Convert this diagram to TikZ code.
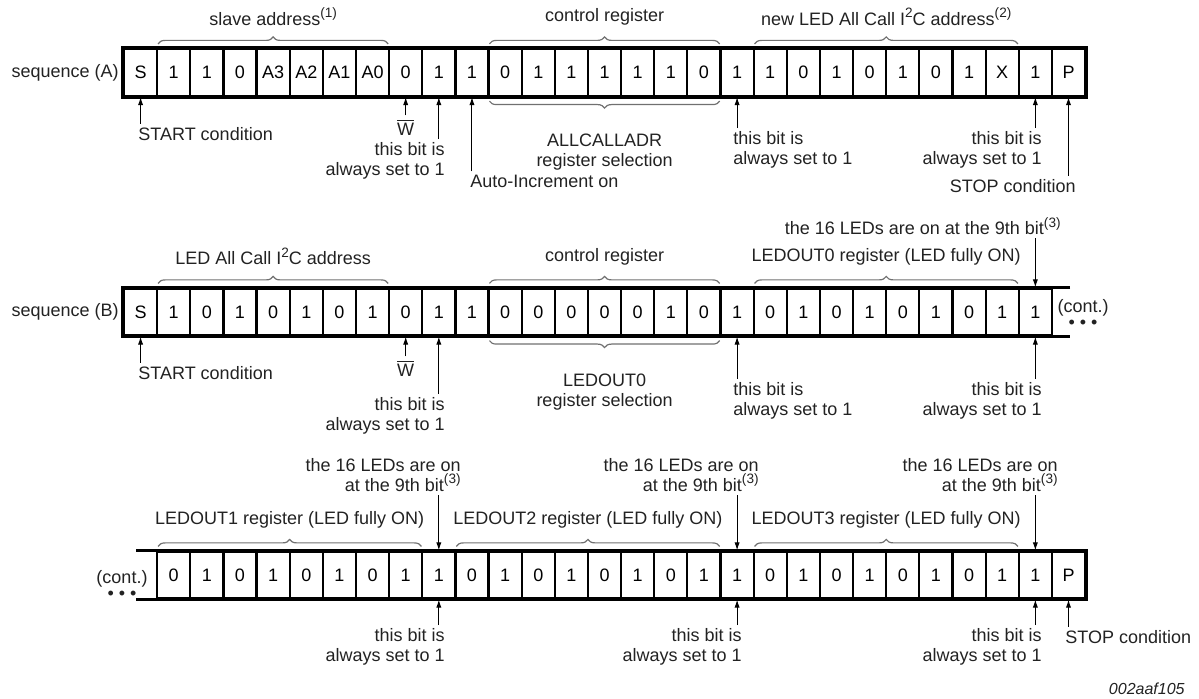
\documentclass[tikz,border=0pt]{standalone}
\usepackage{fontspec}
\setmainfont{Liberation Sans}
\usetikzlibrary{arrows.meta,decorations.pathreplacing}
\definecolor{braceGris}{HTML}{707070}
\definecolor{textoGris}{HTML}{222222}
\newcommand\notemark[1]{\raisebox{0.42em}{\fontsize{6.8pt}{7pt}\selectfont #1}}

\tikzset{
  bitcell/.style={draw,line width=1.1pt,minimum width=16.57pt,minimum height=23.5pt,inner sep=0pt},
  rail/.style={line width=1.8pt},
  lbl/.style={inner sep=1.5pt,text=textoGris},
  ptr/.style={-{Latex[length=4pt,width=2.6pt]},line width=0.5pt},
  grpbrace/.style={decorate,decoration={brace,amplitude=3.5pt},draw=braceGris,line width=0.6pt}
}

\begin{document}
\begin{tikzpicture}[x=0.5pt,y=-0.5pt,font=\fontsize{9pt}{10pt}\selectfont]
    \useasboundingbox (0,0) rectangle (1199,699);

    % sequence (A)
    \foreach \b [count=\i from 0] in {S,1,1,0,A3,A2,A1,A0,0,1,1,0,1,1,1,1,1,0,1,1,0,1,0,1,0,1,X,1,P}
      \node[bitcell] (A\i) at (140.57+33.14*\i,72.5) {\b};
    \draw[rail] (A0.north west) rectangle (A28.south east);
    \node[lbl,anchor=east] (seqA) at (122,72.5) {sequence (A)};

    \draw[grpbrace] ([xshift=1pt,yshift=2pt]A1.north west) -- ([xshift=-1pt,yshift=2pt]A7.north east)
      node[lbl,midway,yshift=13.5pt] (slaveA) {slave address\notemark{(1)}};
    \draw[grpbrace] ([xshift=1pt,yshift=2pt]A11.north west) -- ([xshift=-1pt,yshift=2pt]A17.north east)
      node[lbl,midway,yshift=13.5pt] (ctrlA) {control register};
    \draw[grpbrace] ([xshift=1pt,yshift=2pt]A19.north west) -- ([xshift=-1pt,yshift=2pt]A26.north east)
      node[lbl,midway,yshift=13.5pt] (newA) {new LED All Call I\notemark{2}C address\notemark{(2)}};
    \draw[grpbrace] ([xshift=-1pt,yshift=-2pt]A17.south east) -- ([xshift=1pt,yshift=-2pt]A11.south west)
      node[lbl,midway,yshift=-25.5pt,align=center] (allcallA) {ALLCALLADR\\register selection};

    \node[lbl,anchor=west] (startA) at (135,134) {START condition};
    \node[lbl] (wA) at (405.7,127) {\(\overline{\mbox{W}}\)};
    \node[lbl,anchor=east,align=right] (setA9) at (448,161) {this bit is\\always set to 1};
    \node[lbl,anchor=west] (autoA) at (467,181) {Auto-Increment on};
    \node[lbl,anchor=west,align=left] (setA18) at (730,150) {this bit is\\always set to 1};
    \node[lbl,anchor=east,align=right] (setA27) at (1045,150) {this bit is\\always set to 1};
    \node[lbl,anchor=east] (stopA) at (1079,186) {STOP condition};
    \draw[ptr] (startA.north -| A0.south) -- (A0.south);
    \draw[ptr] (wA.north -| A8.south) -- (A8.south);
    \draw[ptr] (setA9.north -| A9.south) -- (A9.south);
    \draw[ptr] (autoA.north -| A10.south) -- (A10.south);
    \draw[ptr] (setA18.north -| A18.south) -- (A18.south);
    \draw[ptr] (setA27.north -| A27.south) -- (A27.south);
    \draw[ptr] (stopA.north -| A28.south) -- (A28.south);

    % sequence (B)
    \foreach \b [count=\i from 0] in {S,1,0,1,0,1,0,1,0,1,1,0,0,0,0,0,1,0,1,0,1,0,1,0,1,0,1,1}
      \node[bitcell] (B\i) at (140.57+33.14*\i,312) {\b};
    \draw[rail] ([xshift=8.5pt]B27.north east) -- (B0.north west) -- (B0.south west) -- ([xshift=8.5pt]B27.south east);
    \node[lbl,anchor=east] (seqB) at (122,312) {sequence (B)};
    \node[lbl,align=center] (contB) at (1083,314) {(cont.)\\[-2pt]\textbullet\hspace{2.5pt}\textbullet\hspace{2.5pt}\textbullet};

    \draw[grpbrace] ([xshift=1pt,yshift=2pt]B1.north west) -- ([xshift=-1pt,yshift=2pt]B7.north east)
      node[lbl,midway,yshift=13.5pt] (allB) {LED All Call I\notemark{2}C address};
    \draw[grpbrace] ([xshift=1pt,yshift=2pt]B11.north west) -- ([xshift=-1pt,yshift=2pt]B17.north east)
      node[lbl,midway,yshift=13.5pt] (ctrlB) {control register};
    \draw[grpbrace] ([xshift=1pt,yshift=2pt]B19.north west) -- ([xshift=-1pt,yshift=2pt]B26.north east)
      node[lbl,midway,yshift=13.5pt] (out0B) {LEDOUT0 register (LED fully ON)};
    \draw[grpbrace] ([xshift=-1pt,yshift=-2pt]B17.south east) -- ([xshift=1pt,yshift=-2pt]B11.south west)
      node[lbl,midway,yshift=-25.5pt,align=center] (selB) {LEDOUT0\\register selection};

    \node[lbl,anchor=east] (ledsB) at (1064,226) {the 16 LEDs are on at the 9th bit\notemark{(3)}};
    \draw[ptr] (ledsB.south -| B27.north) -- (B27.north);

    \node[lbl,anchor=west] (startB) at (135,373) {START condition};
    \node[lbl] (wB) at (405.7,368) {\(\overline{\mbox{W}}\)};
    \node[lbl,anchor=east,align=right] (setB9) at (448,416) {this bit is\\always set to 1};
    \node[lbl,anchor=west,align=left] (setB18) at (730,401) {this bit is\\always set to 1};
    \node[lbl,anchor=east,align=right] (setB27) at (1045,401) {this bit is\\always set to 1};
    \draw[ptr] (startB.north -| B0.south) -- (B0.south);
    \draw[ptr] (wB.north -| B8.south) -- (B8.south);
    \draw[ptr] (setB9.north -| B9.south) -- (B9.south);
    \draw[ptr] (setB18.north -| B18.south) -- (B18.south);
    \draw[ptr] (setB27.north -| B27.south) -- (B27.south);

    % continuation
    \foreach \b [count=\i from 1] in {0,1,0,1,0,1,0,1,1,0,1,0,1,0,1,0,1,1,0,1,0,1,0,1,0,1,1,P}
      \node[bitcell] (C\i) at (140.57+33.14*\i,575) {\b};
    \draw[rail] ([xshift=-10pt]C1.north west) -- (C28.north east) -- (C28.south east) -- ([xshift=-10pt]C1.south west);
    \node[lbl,align=center] (contC) at (122,585) {(cont.)\\[-2pt]\textbullet\hspace{2.5pt}\textbullet\hspace{2.5pt}\textbullet};

    \draw[grpbrace] ([xshift=1pt,yshift=2pt]C1.north west) -- ([xshift=-1pt,yshift=2pt]C8.north east)
      node[lbl,midway,yshift=13.5pt] (out1C) {LEDOUT1 register (LED fully ON)};
    \draw[grpbrace] ([xshift=1pt,yshift=2pt]C10.north west) -- ([xshift=-1pt,yshift=2pt]C17.north east)
      node[lbl,midway,yshift=13.5pt] (out2C) {LEDOUT2 register (LED fully ON)};
    \draw[grpbrace] ([xshift=1pt,yshift=2pt]C19.north west) -- ([xshift=-1pt,yshift=2pt]C26.north east)
      node[lbl,midway,yshift=13.5pt] (out3C) {LEDOUT3 register (LED fully ON)};

    \node[lbl,anchor=east,align=right] (ledsC9) at (464,475) {the 16 LEDs are on\\at the 9th bit\notemark{(3)}};
    \node[lbl,anchor=east,align=right] (ledsC18) at (762,475) {the 16 LEDs are on\\at the 9th bit\notemark{(3)}};
    \node[lbl,anchor=east,align=right] (ledsC27) at (1061,475) {the 16 LEDs are on\\at the 9th bit\notemark{(3)}};
    \draw[ptr] (ledsC9.south -| C9.north) -- (C9.north);
    \draw[ptr] (ledsC18.south -| C18.north) -- (C18.north);
    \draw[ptr] (ledsC27.south -| C27.north) -- (C27.north);

    \node[lbl,anchor=east,align=right] (setC9) at (448,647) {this bit is\\always set to 1};
    \node[lbl,anchor=east,align=right] (setC18) at (745,647) {this bit is\\always set to 1};
    \node[lbl,anchor=east,align=right] (setC27) at (1045,647) {this bit is\\always set to 1};
    \node[lbl,anchor=west] (stopC) at (1062,637) {STOP condition};
    \draw[ptr] (setC9.north -| C9.south) -- (C9.south);
    \draw[ptr] (setC18.north -| C18.south) -- (C18.south);
    \draw[ptr] (setC27.north -| C27.south) -- (C27.south);
    \draw[ptr] (stopC.north -| C28.south) -- (C28.south);

    \node[lbl,anchor=east,font=\itshape\fontsize{8pt}{9pt}\selectfont] (figid) at (1188,689) {002aaf105};
\end{tikzpicture}
\end{document}
